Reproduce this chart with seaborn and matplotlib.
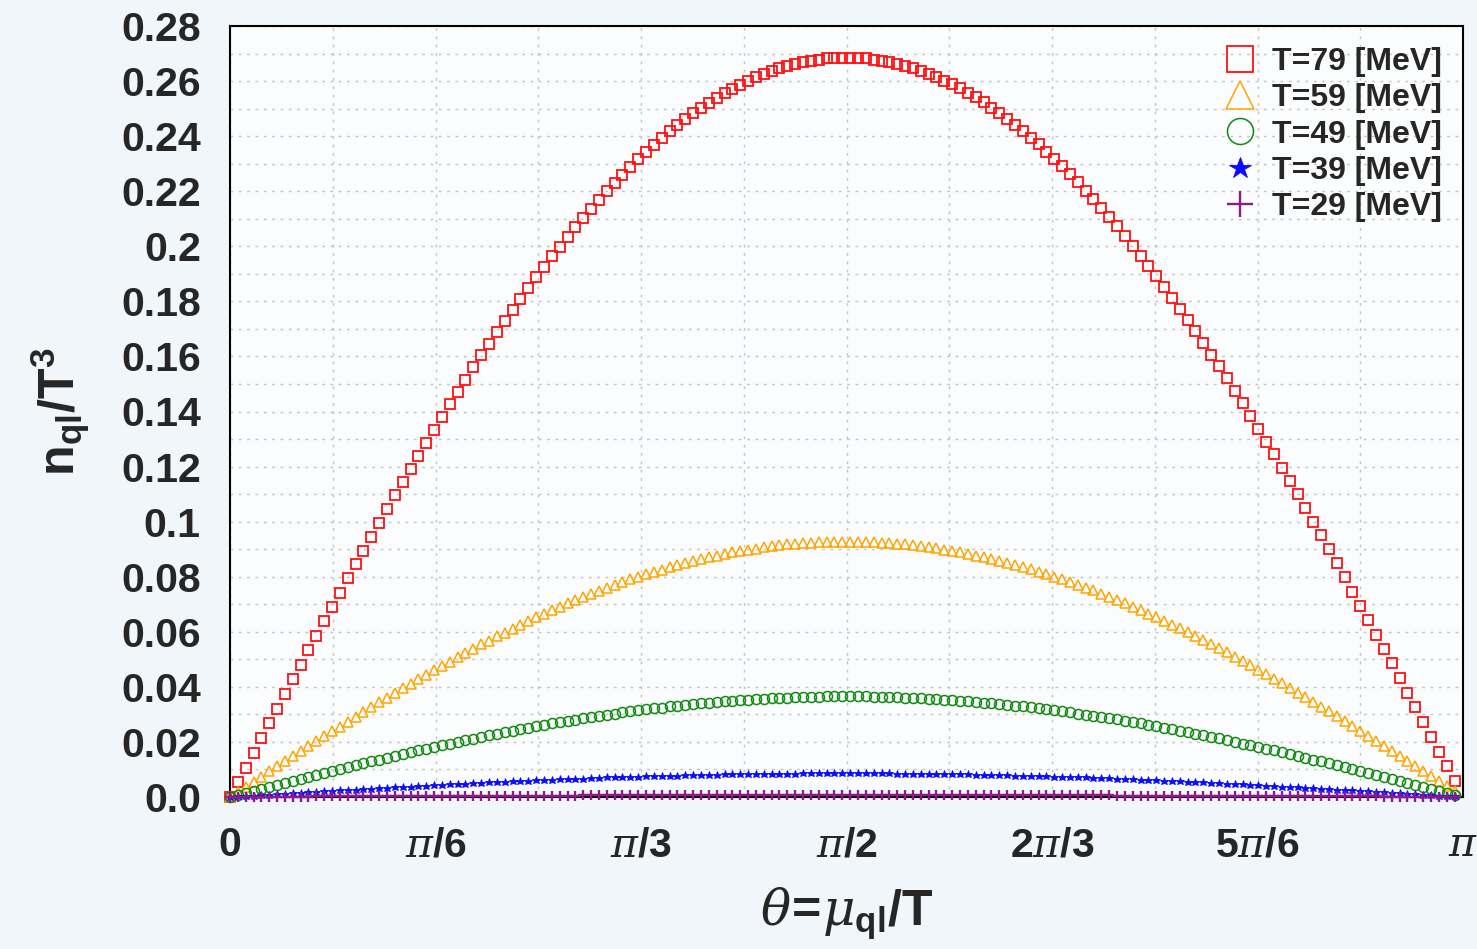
import numpy as np
import pandas as pd
import seaborn as sns
import matplotlib.pyplot as plt

# theta = mu_ql / T grid, 0 .. 3.12 in steps of 0.02 (157 points)
theta = np.round(np.arange(157) * 0.02, 2)

# n_ql / T^3, rising half (theta 0..1.56) and falling half (1.58..3.12)
t79_rise = [0.0000, 0.0054, 0.0107, 0.0161, 0.0215, 0.0268, 0.0321, 0.0375, 0.0428, 0.0481,
            0.0533, 0.0586, 0.0638, 0.0690, 0.0742, 0.0794, 0.0845, 0.0895, 0.0946, 0.0996,
            0.1046, 0.1095, 0.1144, 0.1192, 0.1240, 0.1287, 0.1334, 0.1380, 0.1426, 0.1471,
            0.1516, 0.1560, 0.1604, 0.1646, 0.1688, 0.1730, 0.1770, 0.1810, 0.1850, 0.1888,
            0.1926, 0.1963, 0.1999, 0.2035, 0.2069, 0.2103, 0.2136, 0.2168, 0.2200, 0.2230,
            0.2259, 0.2288, 0.2316, 0.2342, 0.2368, 0.2393, 0.2417, 0.2440, 0.2462, 0.2483,
            0.2503, 0.2521, 0.2539, 0.2556, 0.2572, 0.2587, 0.2601, 0.2614, 0.2626, 0.2636,
            0.2646, 0.2655, 0.2662, 0.2669, 0.2674, 0.2678, 0.2682, 0.2684, 0.2685]
t79_fall = [0.2685, 0.2684, 0.2682, 0.2678, 0.2674, 0.2669, 0.2663, 0.2655, 0.2647, 0.2637,
            0.2627, 0.2615, 0.2602, 0.2588, 0.2574, 0.2558, 0.2541, 0.2523, 0.2504, 0.2484,
            0.2463, 0.2442, 0.2419, 0.2395, 0.2370, 0.2344, 0.2318, 0.2290, 0.2262, 0.2232,
            0.2202, 0.2171, 0.2139, 0.2106, 0.2072, 0.2038, 0.2002, 0.1966, 0.1929, 0.1891,
            0.1853, 0.1814, 0.1774, 0.1733, 0.1692, 0.1650, 0.1607, 0.1564, 0.1520, 0.1475,
            0.1430, 0.1384, 0.1338, 0.1291, 0.1244, 0.1196, 0.1148, 0.1099, 0.1050, 0.1000,
            0.0950, 0.0900, 0.0849, 0.0798, 0.0746, 0.0695, 0.0642, 0.0590, 0.0538, 0.0485,
            0.0432, 0.0379, 0.0326, 0.0272, 0.0219, 0.0165, 0.0112, 0.0058]

t59_rise = [0.0000, 0.0019, 0.0037, 0.0056, 0.0074, 0.0093, 0.0111, 0.0129, 0.0148, 0.0166,
            0.0184, 0.0202, 0.0220, 0.0238, 0.0256, 0.0274, 0.0292, 0.0309, 0.0327, 0.0344,
            0.0361, 0.0378, 0.0395, 0.0412, 0.0428, 0.0444, 0.0461, 0.0477, 0.0492, 0.0508,
            0.0523, 0.0539, 0.0554, 0.0568, 0.0583, 0.0597, 0.0611, 0.0625, 0.0639, 0.0652,
            0.0665, 0.0678, 0.0690, 0.0703, 0.0715, 0.0726, 0.0738, 0.0749, 0.0759, 0.0770,
            0.0780, 0.0790, 0.0799, 0.0809, 0.0818, 0.0826, 0.0834, 0.0842, 0.0850, 0.0857,
            0.0864, 0.0871, 0.0877, 0.0883, 0.0888, 0.0893, 0.0898, 0.0902, 0.0907, 0.0910,
            0.0914, 0.0917, 0.0919, 0.0921, 0.0923, 0.0925, 0.0926, 0.0927, 0.0927]
t59_fall = [0.0927, 0.0927, 0.0926, 0.0925, 0.0923, 0.0922, 0.0919, 0.0917, 0.0914, 0.0911,
            0.0907, 0.0903, 0.0898, 0.0894, 0.0889, 0.0883, 0.0877, 0.0871, 0.0865, 0.0858,
            0.0851, 0.0843, 0.0835, 0.0827, 0.0818, 0.0809, 0.0800, 0.0791, 0.0781, 0.0771,
            0.0760, 0.0750, 0.0738, 0.0727, 0.0716, 0.0704, 0.0691, 0.0679, 0.0666, 0.0653,
            0.0640, 0.0626, 0.0612, 0.0598, 0.0584, 0.0570, 0.0555, 0.0540, 0.0525, 0.0509,
            0.0494, 0.0478, 0.0462, 0.0446, 0.0429, 0.0413, 0.0396, 0.0379, 0.0362, 0.0345,
            0.0328, 0.0311, 0.0293, 0.0275, 0.0258, 0.0240, 0.0222, 0.0204, 0.0186, 0.0168,
            0.0149, 0.0131, 0.0113, 0.0094, 0.0076, 0.0057, 0.0039, 0.0020]

t49_rise = [0.0000, 0.0007, 0.0015, 0.0022, 0.0029, 0.0036, 0.0044, 0.0051, 0.0058, 0.0065,
            0.0073, 0.0080, 0.0087, 0.0094, 0.0101, 0.0108, 0.0115, 0.0122, 0.0129, 0.0135,
            0.0142, 0.0149, 0.0155, 0.0162, 0.0169, 0.0175, 0.0181, 0.0188, 0.0194, 0.0200,
            0.0206, 0.0212, 0.0218, 0.0224, 0.0230, 0.0235, 0.0241, 0.0246, 0.0251, 0.0257,
            0.0262, 0.0267, 0.0272, 0.0277, 0.0281, 0.0286, 0.0290, 0.0295, 0.0299, 0.0303,
            0.0307, 0.0311, 0.0315, 0.0318, 0.0322, 0.0325, 0.0329, 0.0332, 0.0335, 0.0337,
            0.0340, 0.0343, 0.0345, 0.0348, 0.0350, 0.0352, 0.0354, 0.0355, 0.0357, 0.0358,
            0.0360, 0.0361, 0.0362, 0.0363, 0.0364, 0.0364, 0.0365, 0.0365, 0.0365]
t49_fall = [0.0365, 0.0365, 0.0365, 0.0364, 0.0364, 0.0363, 0.0362, 0.0361, 0.0360, 0.0358,
            0.0357, 0.0355, 0.0354, 0.0352, 0.0350, 0.0348, 0.0345, 0.0343, 0.0340, 0.0338,
            0.0335, 0.0332, 0.0329, 0.0326, 0.0322, 0.0319, 0.0315, 0.0311, 0.0307, 0.0303,
            0.0299, 0.0295, 0.0291, 0.0286, 0.0282, 0.0277, 0.0272, 0.0267, 0.0262, 0.0257,
            0.0252, 0.0247, 0.0241, 0.0236, 0.0230, 0.0224, 0.0219, 0.0213, 0.0207, 0.0201,
            0.0194, 0.0188, 0.0182, 0.0176, 0.0169, 0.0163, 0.0156, 0.0149, 0.0143, 0.0136,
            0.0129, 0.0122, 0.0115, 0.0109, 0.0101, 0.0094, 0.0087, 0.0080, 0.0073, 0.0066,
            0.0059, 0.0052, 0.0044, 0.0037, 0.0030, 0.0022, 0.0015, 0.0008]

t39_rise = [0.0000, 0.0002, 0.0003, 0.0005, 0.0007, 0.0009, 0.0010, 0.0012, 0.0014, 0.0015,
            0.0017, 0.0019, 0.0020, 0.0022, 0.0024, 0.0025, 0.0027, 0.0029, 0.0030, 0.0032,
            0.0034, 0.0035, 0.0037, 0.0038, 0.0040, 0.0041, 0.0043, 0.0044, 0.0046, 0.0047,
            0.0049, 0.0050, 0.0051, 0.0053, 0.0054, 0.0055, 0.0057, 0.0058, 0.0059, 0.0061,
            0.0062, 0.0063, 0.0064, 0.0065, 0.0066, 0.0067, 0.0068, 0.0069, 0.0071, 0.0071,
            0.0072, 0.0073, 0.0074, 0.0075, 0.0076, 0.0077, 0.0077, 0.0078, 0.0079, 0.0080,
            0.0080, 0.0081, 0.0081, 0.0082, 0.0082, 0.0083, 0.0083, 0.0084, 0.0084, 0.0084,
            0.0085, 0.0085, 0.0085, 0.0086, 0.0086, 0.0086, 0.0086, 0.0086, 0.0086]
t39_fall = [0.0086, 0.0086, 0.0086, 0.0086, 0.0086, 0.0086, 0.0085, 0.0085, 0.0085, 0.0084,
            0.0084, 0.0084, 0.0083, 0.0083, 0.0082, 0.0082, 0.0081, 0.0081, 0.0080, 0.0080,
            0.0079, 0.0078, 0.0077, 0.0077, 0.0076, 0.0075, 0.0074, 0.0073, 0.0073, 0.0072,
            0.0071, 0.0070, 0.0069, 0.0068, 0.0067, 0.0065, 0.0064, 0.0063, 0.0062, 0.0061,
            0.0059, 0.0058, 0.0057, 0.0056, 0.0054, 0.0053, 0.0052, 0.0050, 0.0049, 0.0047,
            0.0046, 0.0044, 0.0043, 0.0041, 0.0040, 0.0038, 0.0037, 0.0035, 0.0034, 0.0032,
            0.0030, 0.0029, 0.0027, 0.0026, 0.0024, 0.0022, 0.0021, 0.0019, 0.0017, 0.0016,
            0.0014, 0.0012, 0.0010, 0.0009, 0.0007, 0.0005, 0.0004, 0.0002]

t29_rise = [0.0000, 0.0000, 0.0000, 0.0000, 0.0001, 0.0001, 0.0001, 0.0001, 0.0001, 0.0001,
            0.0001, 0.0002, 0.0002, 0.0002, 0.0002, 0.0002, 0.0002, 0.0002, 0.0002, 0.0003,
            0.0003, 0.0003, 0.0003, 0.0003, 0.0003, 0.0003, 0.0003, 0.0004, 0.0004, 0.0004,
            0.0004, 0.0004, 0.0004, 0.0004, 0.0004, 0.0005, 0.0005, 0.0005, 0.0005, 0.0005,
            0.0005, 0.0005, 0.0005, 0.0005, 0.0005, 0.0006, 0.0006, 0.0006, 0.0006, 0.0006,
            0.0006, 0.0006, 0.0006, 0.0006, 0.0006, 0.0006, 0.0006, 0.0006, 0.0006, 0.0007,
            0.0007, 0.0007, 0.0007, 0.0007, 0.0007, 0.0007, 0.0007, 0.0007, 0.0007, 0.0007,
            0.0007, 0.0007, 0.0007, 0.0007, 0.0007, 0.0007, 0.0007, 0.0007, 0.0007]
t29_fall = [0.0007, 0.0007, 0.0007, 0.0007, 0.0007, 0.0007, 0.0007, 0.0007, 0.0007, 0.0007,
            0.0007, 0.0007, 0.0007, 0.0007, 0.0007, 0.0007, 0.0007, 0.0007, 0.0007, 0.0007,
            0.0006, 0.0006, 0.0006, 0.0006, 0.0006, 0.0006, 0.0006, 0.0006, 0.0006, 0.0006,
            0.0006, 0.0006, 0.0006, 0.0006, 0.0005, 0.0005, 0.0005, 0.0005, 0.0005, 0.0005,
            0.0005, 0.0005, 0.0005, 0.0005, 0.0004, 0.0004, 0.0004, 0.0004, 0.0004, 0.0004,
            0.0004, 0.0004, 0.0003, 0.0003, 0.0003, 0.0003, 0.0003, 0.0003, 0.0003, 0.0003,
            0.0002, 0.0002, 0.0002, 0.0002, 0.0002, 0.0002, 0.0002, 0.0002, 0.0001, 0.0001,
            0.0001, 0.0001, 0.0001, 0.0001, 0.0001, 0.0000, 0.0000, 0.0000]

labels = ['T=79 [MeV]', 'T=59 [MeV]', 'T=49 [MeV]', 'T=39 [MeV]', 'T=29 [MeV]']
series = [t79_rise + t79_fall, t59_rise + t59_fall, t49_rise + t49_fall,
          t39_rise + t39_fall, t29_rise + t29_fall]

# mathtext: \mathbf -> bold sans, greek -> light serif italic
xtick_labels = [r'$\mathbf{0}$', r'$\pi\mathbf{/6}$', r'$\pi\mathbf{/3}$', r'$\pi\mathbf{/2}$',
                r'$\mathbf{2}\pi\mathbf{/3}$', r'$\mathbf{5}\pi\mathbf{/6}$', r'$\pi$']
ytick_labels = ['0.0', '0.02', '0.04', '0.06', '0.08', '0.1', '0.12', '0.14',
                '0.16', '0.18', '0.2', '0.22', '0.24', '0.26', '0.28']

df = pd.DataFrame({'theta': np.tile(theta, len(labels)),
                   'n': np.concatenate(series),
                   'T': np.repeat(labels, len(theta))})

# styles
sns.set_style('white')
plt.rcParams['font.family'] = ['Liberation Sans', 'DejaVu Sans']
plt.rcParams['mathtext.fontset'] = 'custom'
plt.rcParams['mathtext.rm'] = 'Liberation Sans:bold'
plt.rcParams['mathtext.bf'] = 'Liberation Sans:bold'
plt.rcParams['mathtext.sf'] = 'Liberation Sans:bold'
plt.rcParams['mathtext.it'] = 'DejaVu Serif:italic'

colors = ['#ff1010', '#ffa500', '#108a10', '#0a0aff', '#8b1a8b']
markers = ['s', '^', 'o', '*', '+']
msizes = [7.0, 7.6, 7.2, 6.2, 7.0]
mews = [1.3, 1.1, 1.1, 0.6, 1.7]
filled = [False, False, False, True, True]

fig = plt.figure(figsize=(14.77, 9.49), dpi=100, facecolor='#f0f6f9')
ax = fig.add_axes([230 / 1477, 1 - 797 / 949, 1233 / 1477, 771 / 949])
ax.set_facecolor('#fafcfd')

for lab, col, mk, ms, mw, fl in zip(labels, colors, markers, msizes, mews, filled):
    sns.lineplot(data=df[df['T'] == lab], x='theta', y='n', ax=ax,
                 estimator=None, sort=False, label=lab,
                 linestyle='none', marker=mk, markersize=ms,
                 color=col, markeredgecolor=col,
                 markerfacecolor=col if fl else 'none',
                 markeredgewidth=mw, clip_on=False, zorder=3)

ax.set_xlim(0, np.pi)
ax.set_ylim(0, 0.28)
ax.set_xticks(np.pi * np.arange(7) / 6)
ax.set_xticklabels(xtick_labels)
ax.set_xticks(np.pi * np.arange(1, 12, 2) / 12, minor=True)
ax.set_yticks(np.arange(15) * 0.02)
ax.set_yticklabels(ytick_labels, fontweight='bold')
ax.set_yticks(np.arange(1, 28, 2) * 0.01, minor=True)
ax.tick_params(which='both', length=0, labelsize=29.5, pad=21)

ax.grid(which='both', color='#c4c4c4', linestyle=(0, (2, 4)), linewidth=1.0)
ax.set_axisbelow(True)
for sp in ax.spines.values():
    sp.set_color('black')
    sp.set_linewidth(1.5)

ax.set_xlabel(r'$\theta\!\mathbf{=}\!\mu_{\mathbf{ql}}\mathbf{/T}$', fontsize=36)
ax.set_ylabel(r'$\mathbf{n_{ql}/T^{3}}$', fontsize=36)
ax.xaxis.set_label_coords(0.5, -0.115)
ax.yaxis.set_label_coords(-0.112, 0.5)

leg = ax.legend(loc='upper right', frameon=False, markerscale=2.6, numpoints=1,
                prop={'family': 'Liberation Sans', 'weight': 'bold', 'size': 23},
                handlelength=1.0, handletextpad=0.5, labelspacing=0.2,
                borderaxespad=0.25)

plt.savefig('out.png', dpi=100, facecolor=fig.get_facecolor())
